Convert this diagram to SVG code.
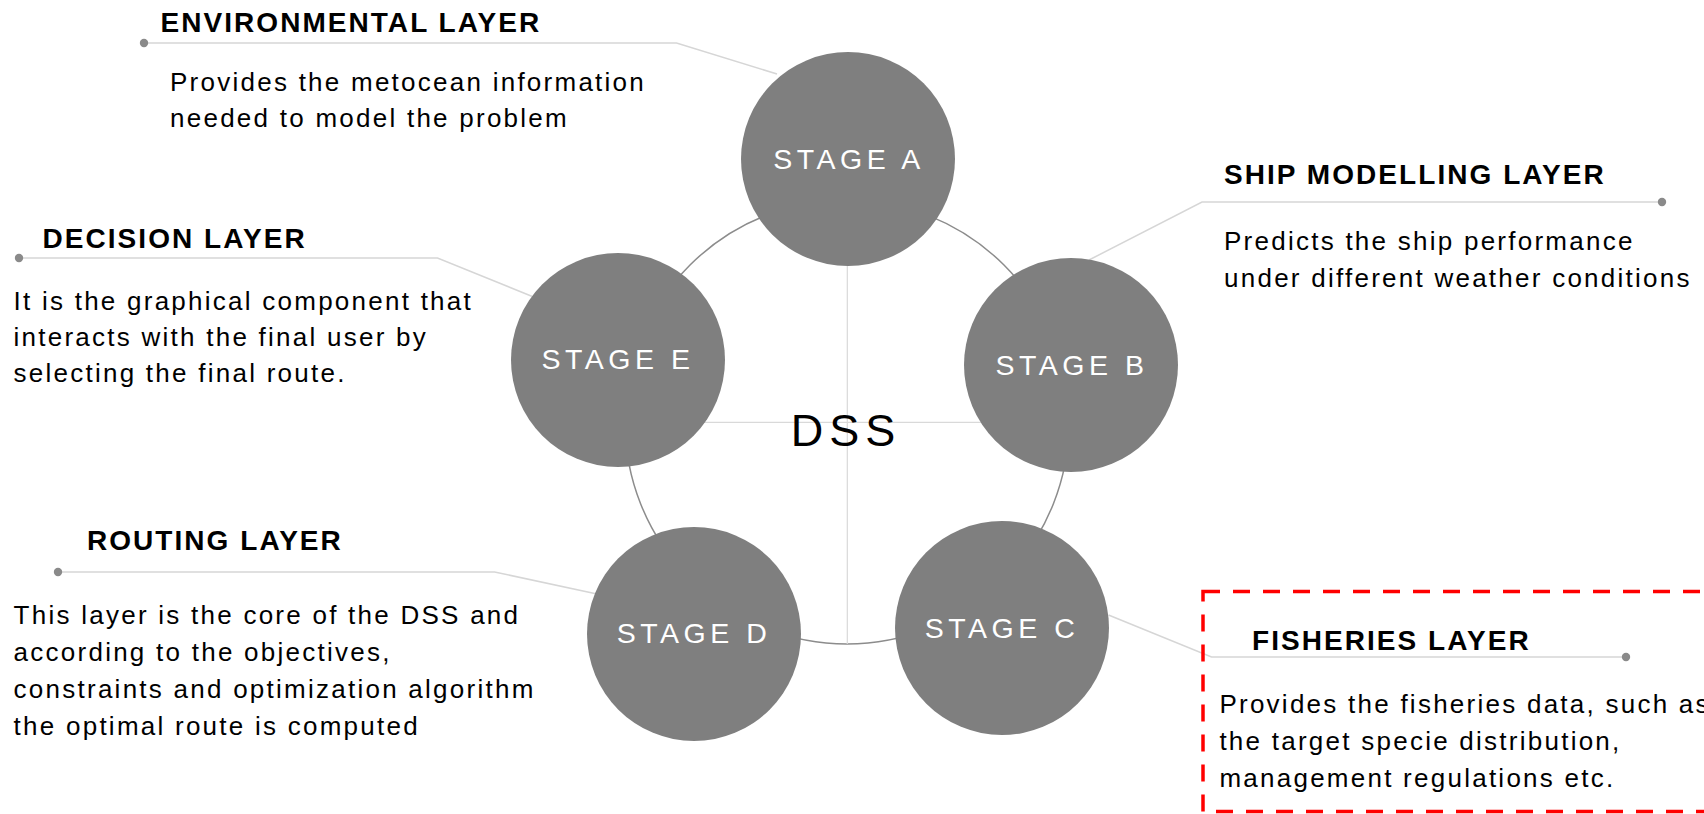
<svg xmlns="http://www.w3.org/2000/svg" width="1704" height="814" viewBox="0 0 1704 814">
<style>
.bg{fill:#ffffff}
.ring{fill:none;stroke:#8c8c8c;stroke-width:1.5}
.cross{stroke:#d9d9d9;stroke-width:1.2;fill:none}
.lead{fill:none;stroke:#d6d6d6;stroke-width:1.5}
.dot{fill:#8a8a8a}
.stage{fill:#7f7f7f}
.stxt{font-family:"Liberation Sans",Arial,sans-serif;font-size:28.5px;letter-spacing:4.5px;fill:#ffffff;text-anchor:middle}
.dss{font-family:"Liberation Sans",Arial,sans-serif;font-size:45px;letter-spacing:6px;fill:#000000;text-anchor:middle}
.title{font-family:"Liberation Sans",Arial,sans-serif;font-size:28px;font-weight:bold;letter-spacing:2.05px;fill:#000000}
.desc{font-family:"Liberation Sans",Arial,sans-serif;font-size:26px;letter-spacing:2.25px;fill:#000000}
.box{fill:none;stroke:#ff0000;stroke-width:3.5;stroke-dasharray:17 13}
</style>
<rect class="bg" x="0" y="0" width="1704" height="814"/>
<g id="connectors">
  <circle class="ring" cx="847" cy="422" r="222"/>
  <line class="cross" x1="847.3" y1="200" x2="847.3" y2="644"/>
  <line class="cross" x1="624" y1="422.3" x2="1070" y2="422.3"/>
  <polyline class="lead" points="144,43 676.5,43 777,74"/>
  <polyline class="lead" points="19,258 437.5,258 541,300"/>
  <polyline class="lead" points="1662,202 1202,202 1089,260"/>
  <polyline class="lead" points="58,572 494.6,572 600.5,594.7"/>
  <polyline class="lead" points="1626,657 1211.5,657 1108.5,615"/>
  <circle class="dot" cx="144" cy="43" r="4.2"/>
  <circle class="dot" cx="19" cy="258" r="4.2"/>
  <circle class="dot" cx="1662" cy="202" r="4.2"/>
  <circle class="dot" cx="58" cy="572" r="4.2"/>
  <circle class="dot" cx="1626" cy="657" r="4.2"/>
</g>
<g id="stage-a">
  <circle class="stage" cx="848" cy="159" r="107"/>
  <text class="stxt" x="849" y="168.5">STAGE A</text>
</g>
<g id="stage-b">
  <circle class="stage" cx="1071" cy="365" r="107"/>
  <text class="stxt" x="1072" y="375">STAGE B</text>
</g>
<g id="stage-c">
  <circle class="stage" cx="1002" cy="628" r="107"/>
  <text class="stxt" x="1002" y="637.7">STAGE C</text>
</g>
<g id="stage-d">
  <circle class="stage" cx="694" cy="634" r="107"/>
  <text class="stxt" x="694" y="642.7">STAGE D</text>
</g>
<g id="stage-e">
  <circle class="stage" cx="618" cy="360" r="107"/>
  <text class="stxt" x="618" y="369">STAGE E</text>
</g>
<g id="dss">
  <text class="dss" x="846" y="445.5">DSS</text>
</g>
<g id="environmental-layer">
  <text class="title" x="160.5" y="31.7">ENVIRONMENTAL LAYER</text>
  <text class="desc" x="170" y="90.7">Provides the metocean information</text>
  <text class="desc" x="170" y="126.7">needed to model the problem</text>
</g>
<g id="decision-layer">
  <text class="title" x="42.5" y="248.3">DECISION LAYER</text>
  <text class="desc" x="13.5" y="310">It is the graphical component that</text>
  <text class="desc" x="13.5" y="346">interacts with the final user by</text>
  <text class="desc" x="13.5" y="382">selecting the final route.</text>
</g>
<g id="ship-modelling-layer">
  <text class="title" x="1224" y="184">SHIP MODELLING LAYER</text>
  <text class="desc" x="1224" y="250">Predicts the ship performance</text>
  <text class="desc" x="1224" y="286.7">under different weather conditions</text>
</g>
<g id="routing-layer">
  <text class="title" x="87" y="550.3">ROUTING LAYER</text>
  <text class="desc" x="13.6" y="624.3">This layer is the core of the DSS and</text>
  <text class="desc" x="13.6" y="661">according to the objectives,</text>
  <text class="desc" x="13.6" y="697.7">constraints and optimization algorithm</text>
  <text class="desc" x="13.6" y="735">the optimal route is computed</text>
</g>
<g id="fisheries-layer">
  <rect class="box" x="1203" y="591.5" width="520" height="220"/>
  <text class="title" x="1252" y="650">FISHERIES LAYER</text>
  <text class="desc" x="1219.4" y="713">Provides the fisheries data, such as</text>
  <text class="desc" x="1219.4" y="750">the target specie distribution,</text>
  <text class="desc" x="1219.4" y="787">management regulations etc.</text>
</g>
</svg>
